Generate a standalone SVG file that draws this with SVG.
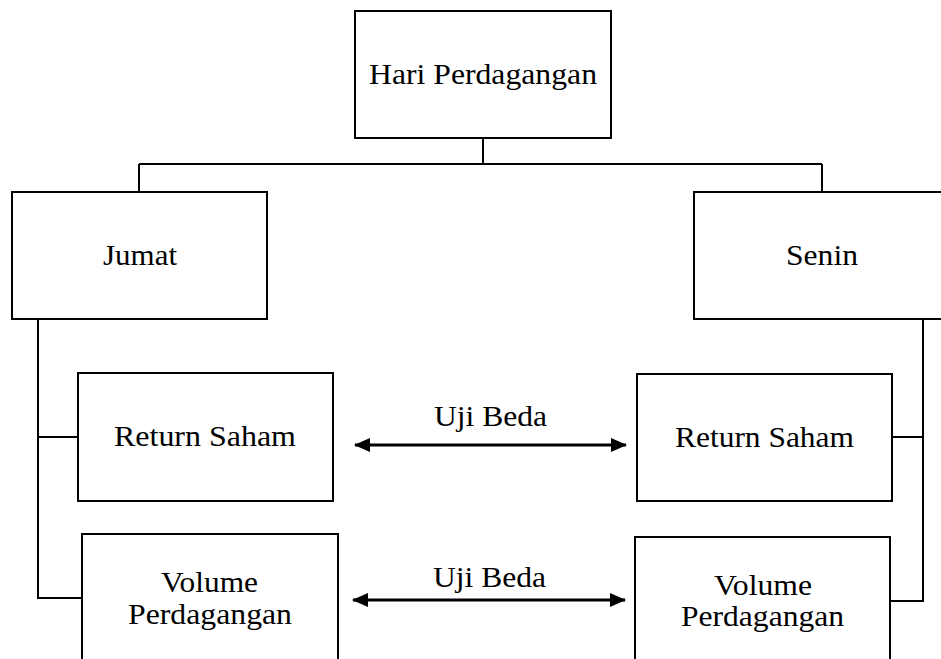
<svg xmlns="http://www.w3.org/2000/svg" width="941" height="659" viewBox="0 0 941 659">
<style>
.box{fill:#fff;stroke:#000;stroke-width:2}
.ln{fill:none;stroke:#000;stroke-width:2}
.arr{fill:none;stroke:#000;stroke-width:3}
text{font-family:'Liberation Serif','Times New Roman',Times,serif;font-size:30px;fill:#000}
</style>
<defs>
<marker id="ah" viewBox="0 0 16 14" refX="15" refY="7" markerWidth="16" markerHeight="14" markerUnits="userSpaceOnUse" orient="auto-start-reverse">
<path d="M0,0 L16,7 L0,14 Z" fill="#000"/>
</marker>
</defs>
<rect width="941" height="659" fill="#fff"/>
<g id="connectors">
<path class="ln" d="M483,138 V164 M139,164 H822 M139,164 V192 M822,164 V192"/>
<path class="ln" d="M38,319 V598 H82 M38,437 H78"/>
<path class="ln" d="M923,319 V601 H890 M923,437 H892"/>
<line class="arr" x1="355" y1="445" x2="626" y2="445" marker-start="url(#ah)" marker-end="url(#ah)"/>
<line class="arr" x1="353" y1="600" x2="625" y2="600" marker-start="url(#ah)" marker-end="url(#ah)"/>
<text x="434" y="426" textLength="113" lengthAdjust="spacingAndGlyphs">Uji Beda</text>
<text x="433" y="587" textLength="113" lengthAdjust="spacingAndGlyphs">Uji Beda</text>
</g>
<g id="hari">
<rect class="box" x="355" y="11" width="256" height="127"/>
<text x="369" y="84" textLength="228" lengthAdjust="spacingAndGlyphs">Hari Perdagangan</text>
</g>
<g id="jumat">
<rect class="box" x="12" y="192" width="255" height="127"/>
<text x="103" y="265" textLength="74" lengthAdjust="spacingAndGlyphs">Jumat</text>
</g>
<g id="senin">
<rect class="box" x="694" y="192" width="260" height="127"/>
<text x="786" y="265" textLength="72" lengthAdjust="spacingAndGlyphs">Senin</text>
</g>
<g id="return-jumat">
<rect class="box" x="78" y="373" width="255" height="128"/>
<text x="114" y="446" textLength="182" lengthAdjust="spacingAndGlyphs">Return Saham</text>
</g>
<g id="return-senin">
<rect class="box" x="637" y="374" width="255" height="127"/>
<text x="675" y="447" textLength="179" lengthAdjust="spacingAndGlyphs">Return Saham</text>
</g>
<g id="volume-jumat">
<rect class="box" x="82" y="534" width="256" height="140"/>
<text x="161" y="592" textLength="97" lengthAdjust="spacingAndGlyphs">Volume</text>
<text x="128" y="624" textLength="164" lengthAdjust="spacingAndGlyphs">Perdagangan</text>
</g>
<g id="volume-senin">
<rect class="box" x="635" y="537" width="255" height="140"/>
<text x="714" y="595" textLength="98" lengthAdjust="spacingAndGlyphs">Volume</text>
<text x="681" y="626" textLength="163" lengthAdjust="spacingAndGlyphs">Perdagangan</text>
</g>
</svg>
